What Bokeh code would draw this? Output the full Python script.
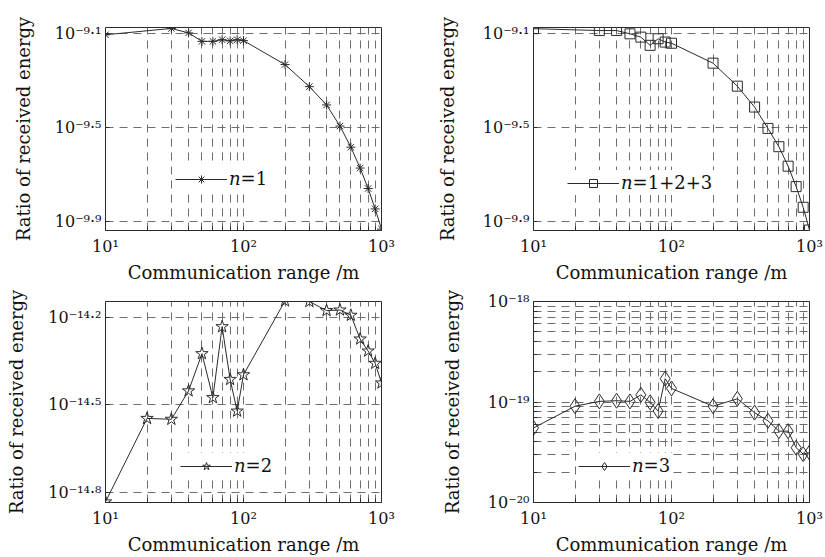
from bokeh.plotting import figure
from bokeh.layouts import column, row
from bokeh.models import FixedTicker, Legend, LegendItem, Range1d
from bokeh.embed import file_html
from bokeh.resources import INLINE

# ---------------- data ----------------
# communication range /m
x_n1 = [10, 30, 40, 50, 60, 70, 80, 90, 100, 200, 300, 400, 500, 600, 700, 800, 900, 1000]
x_n123 = [10, 30, 40, 50, 60, 70, 80, 90, 100, 200, 300, 400, 500, 600, 700, 800, 900, 1000]
x_n2 = [10, 20, 30, 40, 50, 60, 70, 80, 90, 100, 200, 300, 400, 500, 600, 700, 800, 900, 1000]
x_n3 = [10, 20, 30, 40, 50, 60, 70, 80, 90, 100, 200, 300, 400, 500, 600, 700, 800, 900, 1000]

# ratio of received energy, given as log10 exponents
n1_log10 = [-9.104, -9.077, -9.096, -9.132, -9.132, -9.125, -9.130, -9.125, -9.129,
            -9.231, -9.325, -9.403, -9.493, -9.583, -9.672, -9.759, -9.846, -9.932]
n123_log10 = [-9.078, -9.086, -9.086, -9.100, -9.114, -9.149, -9.121, -9.135, -9.140,
              -9.225, -9.323, -9.412, -9.503, -9.581, -9.664, -9.751, -9.839, -9.936]
n2_log10 = [-14.831, -14.546, -14.549, -14.452, -14.325, -14.475, -14.233, -14.413, -14.521,
            -14.397, -14.145, -14.147, -14.178, -14.176, -14.194, -14.275, -14.316, -14.358, -14.425]
n3_log10 = [-19.258, -19.042, -18.994, -18.987, -18.994, -18.929, -19.003, -19.090, -18.768,
            -18.865, -19.042, -18.968, -19.106, -19.187, -19.290, -19.290, -19.455, -19.519, -19.503]

labels = ["\U0001D45B=1", "\U0001D45B=1+2+3", "\U0001D45B=2", "\U0001D45B=3"]

# axis ticks
x_major_ticks = [10, 100, 1000]
x_minor_ticks = [20, 30, 40, 50, 60, 70, 80, 90, 200, 300, 400, 500, 600, 700, 800, 900]
x_tick_labels = ["10\u00b9", "10\u00b2", "10\u00b3"]

y_exp_top = [-9.9, -9.5, -9.1]
y_lab_top = ["10\u207b\u2079\u00b7\u2079", "10\u207b\u2079\u00b7\u2075", "10\u207b\u2079\u00b7\u00b9"]
y_exp_n2 = [-14.8, -14.5, -14.2]
y_lab_n2 = ["10\u207b\u00b9\u2074\u00b7\u2078", "10\u207b\u00b9\u2074\u00b7\u2075", "10\u207b\u00b9\u2074\u00b7\u00b2"]
y_exp_n3 = [-20, -19, -18]
y_lab_n3 = ["10\u207b\u00b2\u2070", "10\u207b\u00b9\u2079", "10\u207b\u00b9\u2078"]
y_minor_mult_n3 = [2, 3, 4, 5, 6, 7, 8, 9]

FONT = "DejaVu Serif"
INK = "#2b2b2b"
GRID = "#6e6e6e"


def panel(xs, ylog, marker, msize, label, ylim_exp, yexp, ylab, yminor,
          width, height, borders, legend_loc, label_standoff_y):
    ys = [10 ** e for e in ylog]
    p = figure(width=width, height=height, x_axis_type="log", y_axis_type="log",
               output_backend="svg", toolbar_location=None, title=None,
               x_range=Range1d(10, 1000),
               y_range=Range1d(10 ** ylim_exp[0], 10 ** ylim_exp[1]),
               min_border_left=borders[0], min_border_right=borders[1],
               min_border_top=borders[2], min_border_bottom=borders[3])
    p.background_fill_color = "white"
    p.border_fill_color = "white"
    p.outline_line_color = INK
    p.outline_line_width = 1

    yt = [10 ** e for e in yexp]
    p.xaxis.ticker = FixedTicker(ticks=x_major_ticks, minor_ticks=x_minor_ticks)
    p.yaxis.ticker = FixedTicker(ticks=yt, minor_ticks=yminor)
    p.xaxis.major_label_overrides = {t: s for t, s in zip(x_major_ticks, x_tick_labels)}
    p.yaxis.major_label_overrides = {t: s for t, s in zip(yt, ylab)}

    for ax in (p.xaxis[0], p.yaxis[0]):
        ax.axis_line_color = None
        ax.major_tick_in = 4
        ax.major_tick_out = 0
        ax.minor_tick_in = 4
        ax.minor_tick_out = 0
        ax.major_tick_line_color = INK
        ax.minor_tick_line_color = INK
        ax.major_label_text_font = FONT
        ax.major_label_text_font_size = "16px"
        ax.major_label_text_color = "#111111"
        ax.axis_label_text_font = FONT
        ax.axis_label_text_font_size = "18px"
        ax.axis_label_text_font_style = "normal"
        ax.axis_label_text_color = "#111111"
    p.xaxis.axis_label = "Communication range /m"
    p.yaxis.axis_label = "Ratio of received energy"
    p.xaxis.major_label_standoff = 6
    p.xaxis.axis_label_standoff = 3
    p.yaxis.major_label_standoff = 4
    p.yaxis.axis_label_standoff = label_standoff_y

    for g in (p.xgrid[0], p.ygrid[0]):
        g.grid_line_color = GRID
        g.grid_line_dash = "8 6"
        g.grid_line_width = 1
    p.xgrid.minor_grid_line_color = GRID
    p.xgrid.minor_grid_line_dash = "8 6"
    if yminor:
        p.ygrid.minor_grid_line_color = GRID
        p.ygrid.minor_grid_line_dash = "8 6"

    lr = p.line(xs, ys, line_color=INK, line_width=1)
    sr = p.scatter(xs, ys, marker=marker, size=msize, line_color=INK,
                   fill_color=None, line_width=1)
    leg = Legend(items=[LegendItem(label=label, renderers=[lr, sr])],
                 location=legend_loc, glyph_width=52, glyph_height=20,
                 label_text_font=FONT, label_text_font_size="18px",
                 label_text_font_style="normal", label_text_color="#111111",
                 label_standoff=2, padding=2, margin=0, spacing=0,
                 border_line_alpha=0, background_fill_color="white",
                 background_fill_alpha=1)
    p.add_layout(leg)
    return p


p1 = panel(x_n1, n1_log10, "asterisk", 9, labels[0], (-9.938, -9.073), y_exp_top, y_lab_top, [],
           410, 285, (105, 29, 27, 50), (68, 39), 18)
p2 = panel(x_n123, n123_log10, "square", 10, labels[1], (-9.938, -9.073), y_exp_top, y_lab_top, [],
           415, 285, (123, 16, 27, 50), (32, 35), 22)
p3 = panel(x_n2, n2_log10, "star", 13, labels[2], (-14.833, -14.147), y_exp_n2, y_lab_n2, [],
           410, 272, (105, 29, 16, 50), (73, 24), 18)
minor_n3 = [m * 10 ** e for e in (-20, -19) for m in y_minor_mult_n3]
p4 = panel(x_n3, n3_log10, "diamond", 15, labels[3], (-20, -18), y_exp_n3, y_lab_n3, minor_n3,
           415, 272, (123, 16, 16, 50), (43, 24), 22)

layout = column(row(p1, p2, spacing=0), row(p3, p4, spacing=0), spacing=0)
open("out.html", "w").write(file_html(layout, INLINE))
